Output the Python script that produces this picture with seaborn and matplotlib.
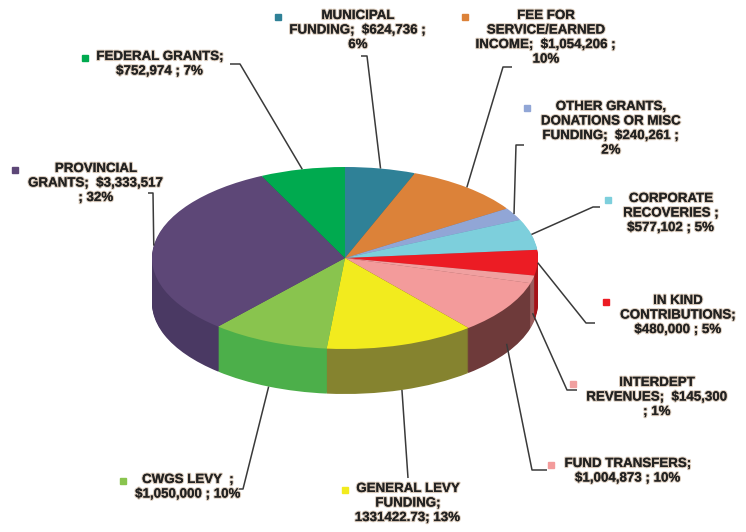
import numpy as np
import matplotlib.pyplot as plt
import matplotlib.patheffects as pe
import seaborn as sns

# Revenue sources (clockwise from the top)
categories = ["Municipal Funding", "Fee for Service/Earned Income",
              "Other Grants, Donations or Misc Funding", "Corporate Recoveries",
              "In Kind Contributions", "Interdept Revenues", "Fund Transfers",
              "General Levy Funding", "CWGS Levy", "Provincial Grants", "Federal Grants"]
amounts = [624736, 1054206, 240261, 577102, 480000, 145300, 1004873,
           1331422.73, 1050000, 3333517, 752974]
label_texts = [
    "MUNICIPAL\nFUNDING;  $624,736 ;\n6%",
    "FEE FOR\nSERVICE/EARNED\nINCOME;  $1,054,206 ;\n10%",
    "OTHER GRANTS,\nDONATIONS OR MISC\nFUNDING;  $240,261 ;\n2%",
    "CORPORATE\nRECOVERIES ;\n$577,102 ; 5%",
    "IN KIND\nCONTRIBUTIONS;\n$480,000 ; 5%",
    "INTERDEPT\nREVENUES;  $145,300\n; 1%",
    "FUND TRANSFERS;\n$1,004,873 ; 10%",
    "GENERAL LEVY\nFUNDING;\n1331422.73; 13%",
    "CWGS LEVY  ;\n$1,050,000 ; 10%",
    "PROVINCIAL\nGRANTS;  $3,333,517\n; 32%",
    "FEDERAL GRANTS;\n$752,974 ; 7%",
]

# styling
top_colors = ["#2f8197", "#dc8239", "#91a6d6", "#7dcfdc", "#ec1c24", "#f0a0a0",
              "#f39b9b", "#f2eb1e", "#89c44e", "#5d4777", "#00aa4f"]
side_colors = ["#1f5c6c", "#a85d25", "#6a7fb0", "#4fa6b4", "#a51217", "#9a5e5e",
               "#6e3a3a", "#85832f", "#4caf4a", "#4a3963", "#007a39"]

# layout in image pixels: text (center x, top y), key marker, leader bend points
text_pos = [(358, 10), (546, 10), (611, 101), (671, 193), (678, 295), (657, 377),
            (628, 458), (408, 483), (188, 474), (96, 163), (160, 51)]
marker_pos = [(278, 17), (465, 17), (527, 108), (608, 200), (606, 302), (573, 384),
              (551, 465), (345, 490), (123, 481), (15, 170), (85, 58)]
bends = [[(361, 56), (367, 56)], [(512, 67), (503, 67)], [(524, 145), (516, 145)],
         [(600, 207), (593, 207)], [(595, 323), (586, 323)], [(577, 390), (567, 390)],
         [(547, 470), (532, 470)], [(408, 478)], [(237, 489), (243, 489)],
         [(148, 193), (153, 193)], [(230, 64), (240, 64)]]
drops = [0, 0, 0, 0, 0, 0.75, 0.8, 1.0, 1.0, 0, 0]

W, H = 746, 532
CX, CY, RX, RY = 345, 258, 193, 91
DEPTH = 45 / RY


def P(px, py):
    return (px - CX) / RX, (CY - py) / RY


sns.set_theme(style="white")
plt.rcParams['font.family'] = ['Liberation Sans', 'DejaVu Sans']

fig = plt.figure(figsize=(W / 100, H / 100), dpi=100)
ax = fig.add_axes([0, 0, 1, 1])

# 3D-ish side: stacked copies of the pie shifted down
for off in np.linspace(-DEPTH, 0, 46)[:-1]:
    ax.pie(amounts, colors=side_colors, startangle=90, counterclock=False,
           center=(0, off), radius=1, wedgeprops=dict(linewidth=0))

wedges, _ = ax.pie(amounts, colors=top_colors, startangle=90, counterclock=False,
                   center=(0, 0), radius=1, wedgeprops=dict(linewidth=0))

stroke = [pe.withStroke(linewidth=1.6, foreground="#d8c8b8"), pe.Normal()]
for w, txt, tp, mp, bp, d, col in zip(wedges, label_texts, text_pos, marker_pos,
                                      bends, drops, top_colors):
    mid = np.deg2rad((w.theta1 + w.theta2) / 2)
    anchor = (np.cos(mid), np.sin(mid) - d * DEPTH)
    pts = [P(*p) for p in bp] + [anchor]
    xs, ys = zip(*pts)
    ax.plot(xs, ys, color="#3a3a3a", lw=1.1, solid_capstyle="butt")
    ax.text(*P(*tp), txt, ha="center", va="top", fontsize=9.6, fontweight="bold",
            color="#222222", linespacing=1.28, path_effects=stroke)
    ax.plot(*P(*mp), marker="s", markersize=5, color=col, linestyle="none")

ax.set_aspect("auto")
ax.set_xlim(-CX / RX, (W - CX) / RX)
ax.set_ylim((CY - H) / RY, CY / RY)
ax.axis("off")

fig.savefig("out.png", dpi=100)
